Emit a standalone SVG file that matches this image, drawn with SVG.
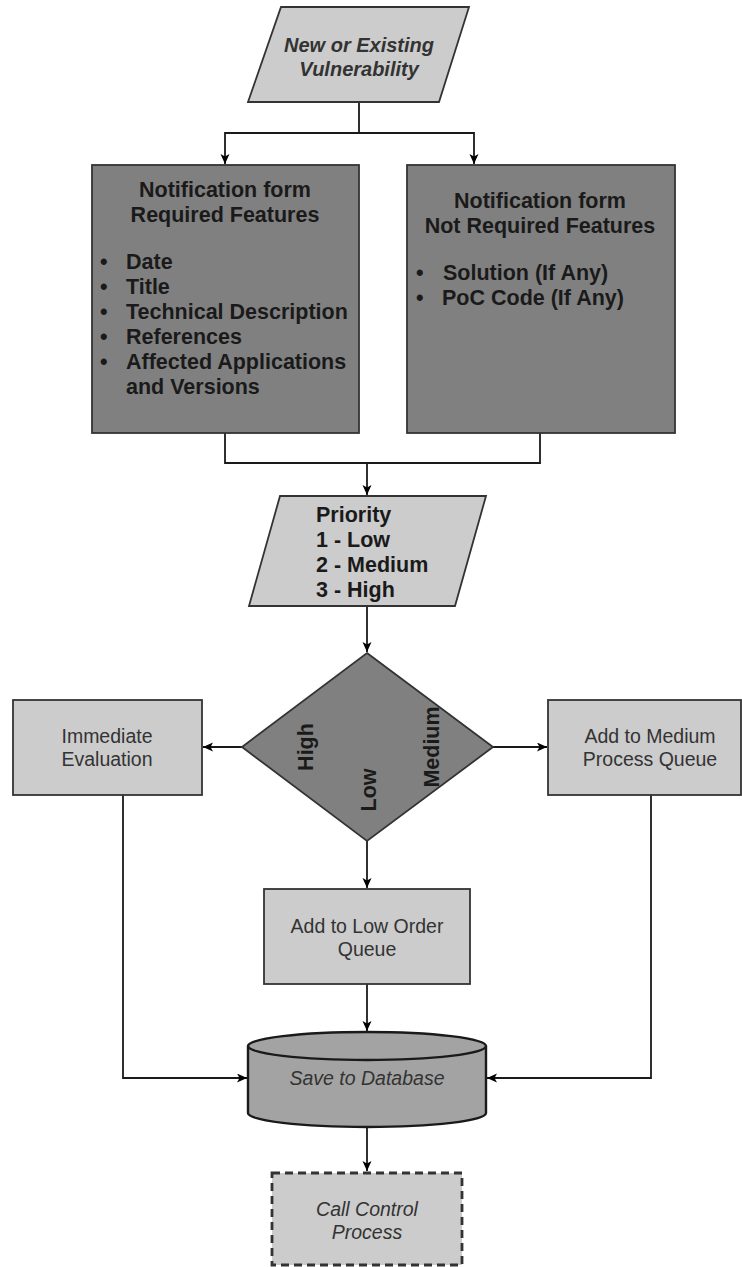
<svg xmlns="http://www.w3.org/2000/svg" width="742" height="1267" viewBox="0 0 742 1267">
<defs>
<marker id="arr" markerWidth="11" markerHeight="10" refX="10" refY="4.5" orient="auto" markerUnits="userSpaceOnUse">
<path d="M0,0 L10,4.5 L0,9 L2.5,4.5 Z" fill="#000"/>
</marker>
<style>
.light{fill:#cccccc;stroke:#333;stroke-width:1.8}
.dark{fill:#808080;stroke:#333;stroke-width:1.8}
.edge{fill:none;stroke:#1a1a1a;stroke-width:1.8}
.b{font-family:"Liberation Sans",Arial,sans-serif;font-weight:bold;font-size:21.5px;fill:#1a1a1a}
.r{font-family:"Liberation Sans",Arial,sans-serif;font-size:19.5px;fill:#333}
.i{font-family:"Liberation Sans",Arial,sans-serif;font-style:italic;font-size:19.5px;fill:#333}
.c{text-anchor:middle}
</style>
</defs>
<rect width="742" height="1267" fill="#fff"/>
<g id="connectors">
<path class="edge" d="M359,102 V133 H225 V164" marker-end="url(#arr)"/>
<path class="edge" d="M359,133 H474 V164" marker-end="url(#arr)"/>
<path class="edge" d="M225,433 V463 H540 V433"/>
<path class="edge" d="M367,463 V495" marker-end="url(#arr)"/>
<path class="edge" d="M367,606 V652" marker-end="url(#arr)"/>
<path class="edge" d="M242,747 H203" marker-end="url(#arr)"/>
<path class="edge" d="M493,747 H547" marker-end="url(#arr)"/>
<path class="edge" d="M367,841 V888" marker-end="url(#arr)"/>
<path class="edge" d="M367,984 V1031" marker-end="url(#arr)"/>
<path class="edge" d="M123,795 V1078 H247" marker-end="url(#arr)"/>
<path class="edge" d="M651,795 V1078 H487" marker-end="url(#arr)"/>
<path class="edge" d="M367,1127 V1171" marker-end="url(#arr)"/>
</g>
<g id="start">
<polygon class="light" points="281,7 469,7 439,102 248,102"/>
<text class="i c" style="font-weight:bold;font-size:20px" x="359" y="52">New or Existing</text>
<text class="i c" style="font-weight:bold;font-size:20px" x="359" y="76">Vulnerability</text>
</g>
<g id="required">
<rect class="dark" x="92" y="165" width="267" height="268"/>
<text class="b c" x="225" y="197">Notification form</text>
<text class="b c" x="225" y="222">Required Features</text>
<g class="b">
<text x="100" y="269">•</text><text x="126" y="269">Date</text>
<text x="100" y="294">•</text><text x="126" y="294">Title</text>
<text x="100" y="319">•</text><text x="126" y="319">Technical Description</text>
<text x="100" y="344">•</text><text x="126" y="344">References</text>
<text x="100" y="369">•</text><text x="126" y="369">Affected Applications</text>
<text x="126" y="394">and Versions</text>
</g>
</g>
<g id="notrequired">
<rect class="dark" x="407" y="165" width="268" height="268"/>
<text class="b c" x="540" y="208">Notification form</text>
<text class="b c" x="540" y="233">Not Required Features</text>
<g class="b">
<text x="416" y="280">•</text><text x="443" y="280">Solution (If Any)</text>
<text x="416" y="305">•</text><text x="442" y="305">PoC Code (If Any)</text>
</g>
</g>
<g id="priority">
<polygon class="light" points="280,496 486,496 455,606 249,606"/>
<text class="b" x="316" y="522">Priority</text>
<text class="b" x="316" y="547">1 - Low</text>
<text class="b" x="316" y="572">2 - Medium</text>
<text class="b" x="316" y="597">3 - High</text>
</g>
<g id="decision">
<polygon class="dark" points="367,653 493,747 367,841 242,747"/>
<text class="b c" dominant-baseline="central" transform="translate(306,747) rotate(-90)">High</text>
<text class="b c" dominant-baseline="central" transform="translate(369,790) rotate(-90)">Low</text>
<text class="b c" dominant-baseline="central" transform="translate(432,747) rotate(-90)">Medium</text>
</g>
<g id="immediate">
<rect class="light" x="13" y="700" width="189" height="95"/>
<text class="r c" x="107" y="743">Immediate</text>
<text class="r c" x="107" y="766">Evaluation</text>
</g>
<g id="medium">
<rect class="light" x="548" y="700" width="193" height="95"/>
<text class="r c" x="650" y="743">Add to Medium</text>
<text class="r c" x="650" y="766">Process Queue</text>
</g>
<g id="low">
<rect class="light" x="264" y="889" width="206" height="95"/>
<text class="r c" x="367" y="933">Add to Low Order</text>
<text class="r c" x="367" y="956">Queue</text>
</g>
<g id="database">
<path d="M248,1046 A119,14 0 0 1 486,1046 V1113 A119,14 0 0 1 248,1113 Z" fill="#a3a3a3" stroke="#1a1a1a" stroke-width="2.4"/>
<path d="M248,1046 A119,14 0 0 0 486,1046" fill="none" stroke="#1a1a1a" stroke-width="2.4"/>
<text class="i c" x="367" y="1085">Save to Database</text>
</g>
<g id="callcontrol">
<rect x="272" y="1173" width="190" height="92" fill="#cccccc" stroke="#333" stroke-width="2.8" stroke-dasharray="8,5"/>
<text class="i c" x="367" y="1216">Call Control</text>
<text class="i c" x="367" y="1239">Process</text>
</g>
</svg>
